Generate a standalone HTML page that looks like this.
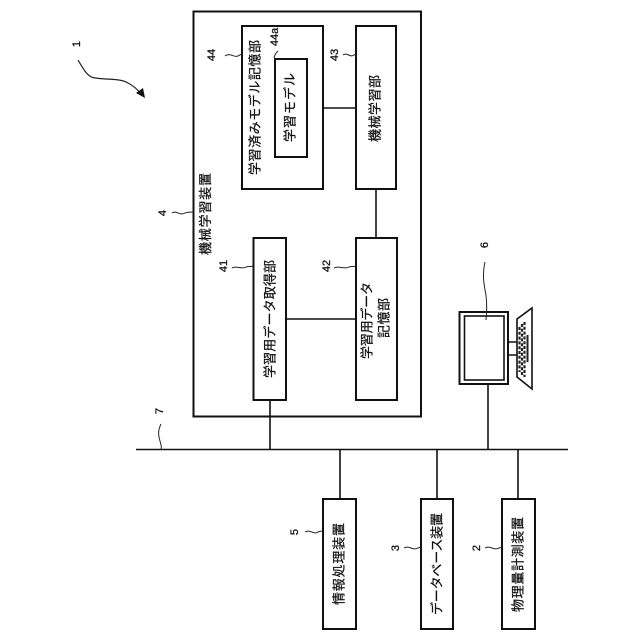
<!DOCTYPE html>
<html><head><meta charset="utf-8"><style>
html,body{margin:0;padding:0;background:#fff}
svg{display:block}
text{font-family:"Liberation Sans","Noto Sans CJK JP",sans-serif;fill:#111}
.t{font-size:13px;dominant-baseline:central;stroke:#111;stroke-width:.25}
.n{font-size:11px;dominant-baseline:central;text-anchor:middle;stroke:#111;stroke-width:.3}
.b{fill:none;stroke:#111;stroke-width:2}
.l{fill:none;stroke:#111;stroke-width:1.6}
.s{fill:none;stroke:#222;stroke-width:1}
</style></head><body>
<svg width="640" height="640" viewBox="0 0 640 640" xmlns="http://www.w3.org/2000/svg">
<rect class="b" x="193.5" y="11.5" width="227.5" height="405"/>
<rect class="b" x="242" y="26" width="81" height="163"/>
<rect class="b" x="275" y="59" width="32" height="98"/>
<rect class="b" x="356" y="26" width="40" height="163"/>
<rect class="b" x="253.500" y="238" width="32.500" height="162"/>
<rect class="b" x="356" y="238" width="41" height="162"/>
<rect class="b" x="323" y="499" width="33" height="130"/>
<rect class="b" x="421" y="499" width="32" height="130"/>
<rect class="b" x="502" y="499" width="33" height="130"/>

<path class="l" d="M323 108H356M376 189V238M286 319H356M270 400V450M136 449.500H568M340 450V499M437 450V499M518 450V499M488 384V450"/>

<!-- terminal -->
<rect class="b" x="459.500" y="312" width="48.500" height="72"/>
<rect class="l" x="464.500" y="316" width="39.500" height="64"/>
<path class="l" d="M508 342H517M508 355H517"/>
<path class="l" d="M517 319L532 308V389L517 377Z"/>
<path d="M519.500 327V372M522 324V375M524.500 322V377" fill="none" stroke="#222" stroke-width="2.200" stroke-dasharray="3 1.800"/>
<path d="M527.500 335V362" fill="none" stroke="#222" stroke-width="2"/>

<!-- labels -->
<text class="t" transform="translate(205.500 255) rotate(-90)" textLength="82" lengthAdjust="spacing">機械学習装置</text>
<text class="t" transform="translate(255 175) rotate(-90)" textLength="135" lengthAdjust="spacing">学習済みモデル記憶部</text>
<text class="t" transform="translate(290 142) rotate(-90)" textLength="69" lengthAdjust="spacing">学習モデル</text>
<text class="t" transform="translate(375 142) rotate(-90)" textLength="67" lengthAdjust="spacing">機械学習部</text>
<text class="t" transform="translate(270 378) rotate(-90)" textLength="118" lengthAdjust="spacing">学習用データ取得部</text>
<text class="t" transform="translate(367 359) rotate(-90)" textLength="77" lengthAdjust="spacing">学習用データ</text>
<text class="t" transform="translate(384 338) rotate(-90)" textLength="40" lengthAdjust="spacing">記憶部</text>
<text class="t" transform="translate(339 605) rotate(-90)" textLength="82" lengthAdjust="spacing">情報処理装置</text>
<text class="t" transform="translate(437 615) rotate(-90)" textLength="102" lengthAdjust="spacing">データベース装置</text>
<text class="t" transform="translate(518 612) rotate(-90)" textLength="95" lengthAdjust="spacing">物理量計測装置</text>

<!-- reference numerals -->
<text class="n" transform="translate(77 44) rotate(-90)">1</text>
<text class="n" transform="translate(212 55) rotate(-90)">44</text>
<text class="n" transform="translate(275 37) rotate(-90)">44a</text>
<text class="n" transform="translate(335 55) rotate(-90)">43</text>
<text class="n" transform="translate(163 213) rotate(-90)">4</text>
<text class="n" transform="translate(224 266) rotate(-90)">41</text>
<text class="n" transform="translate(327 266) rotate(-90)">42</text>
<text class="n" transform="translate(485 245) rotate(-90)">6</text>
<text class="n" transform="translate(160 411) rotate(-90)">7</text>
<text class="n" transform="translate(295 532) rotate(-90)">5</text>
<text class="n" transform="translate(396 548) rotate(-90)">3</text>
<text class="n" transform="translate(477 548) rotate(-90)">2</text>

<!-- leaders -->
<path class="s" d="M225 56C230 52 234 58 238 56C240 55 241 54 242 54"/>
<path class="s" d="M275 58C276 54 277 53 279 51" transform="translate(-1 0)"/>
<path class="s" d="M343 55C347 52 350 58 354 55L356 54"/>
<path class="s" d="M172 213C176 210 180 216 185 213C188 212 190 212 193 212"/>
<path class="s" d="M232 268C237 265 241 270 246 267C249 266 251 267 253 266"/>
<path class="s" d="M334 268C339 265 344 270 349 267C352 266 354 267 356 266"/>
<path class="s" d="M485 262C482 275 484 285 486 295C487 305 487 312 486 320"/>
<path class="s" d="M161 424C157 432 159 437 160 441C161 445 162 447 161 449"/>
<path class="s" d="M305 532C310 529 314 535 318 532C320 531 322 531 323 531"/>
<path class="s" d="M404 548C409 545 413 551 418 548L421 547"/>
<path class="s" d="M485 548C490 545 494 551 499 548L502 547"/>

<!-- arrow -->
<path d="M78 60C84 70 88 78 96 78C106 80 120 78 128 83C134 86 138 90 141 94" fill="none" stroke="#222" stroke-width="1.200"/>
<path d="M145 98L136 93L143 88Z" fill="#111"/>
</svg>
</body></html>
